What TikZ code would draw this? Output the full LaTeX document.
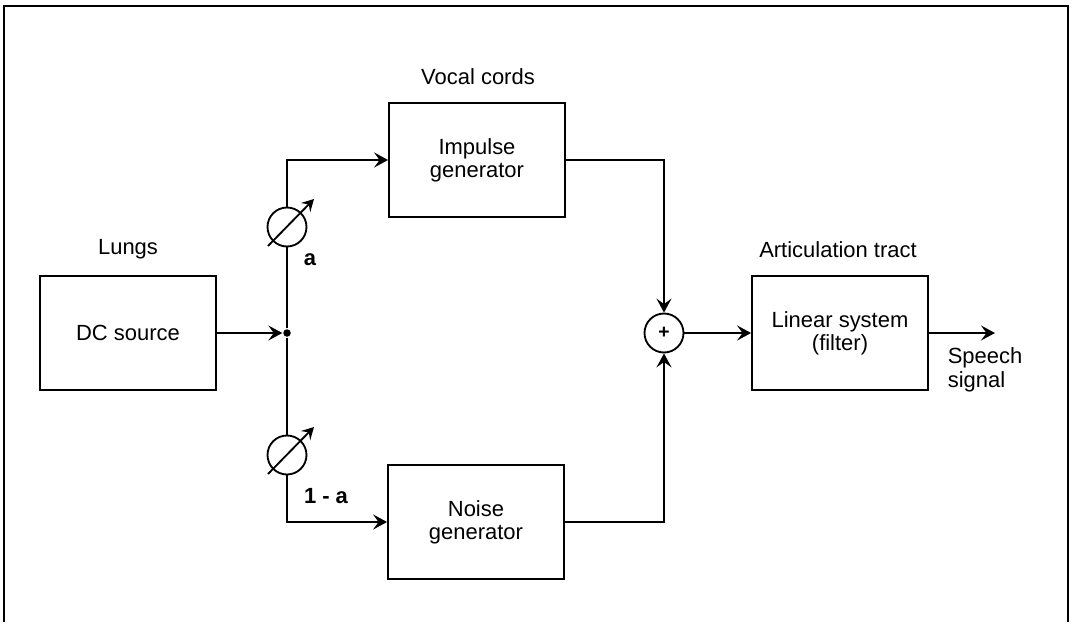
\documentclass[tikz,border=0pt]{standalone}
\usepackage{fontspec}
\setmainfont{Liberation Sans}
\usetikzlibrary{positioning,arrows.meta,calc}
\tikzset{
  blockbox/.style={draw,minimum width=3.52cm,minimum height=2.27cm,
                   align=center,inner sep=2pt},
  potcircle/.style={draw,circle,minimum size=0.78cm,inner sep=0pt},
  flow/.style={-{Stealth[length=2.8mm,width=3mm,inset=1.1mm]}},
  potarrow/.style={-{Stealth[length=2.4mm,width=2.6mm,inset=0.9mm]}},
  gain/.style={font=\bfseries\fontsize{12.5}{13}\selectfont},
}

\begin{document}
\begin{tikzpicture}[x=0.02cm,y=-0.02cm,line width=1.05pt,
                    font=\fontsize{12.5}{13}\selectfont]
            \useasboundingbox (0,0) rectangle (1071,622);
            % Frame (open at the bottom)
            \draw[line width=1.4pt] (4,622) -- (4,6) -- (1068,6) -- (1068,622);
            % Lungs
            \node[blockbox] (dc) at (128,333) {DC source};
            \node (lungs) at (128,249) {Lungs};
            \node[circle,fill,inner sep=0pt,minimum size=0.15cm] (jn) at (287,333) {};
            % Potentiometers a and 1 - a
            \node[potcircle] (pa) at (287,227) {};
            \node[potcircle] (pb) at (287,455) {};
            \foreach \p in {pa,pb}{
                \draw[potarrow] ([shift={(-19,19)}]\p.center)
                    -- ([shift={(27,-28)}]\p.center);
            }
            \node[gain] (la) at (310,260) {a};
            \node[gain] (lb) at (326,496) {1 - a};
            % Vocal cords
            \node[blockbox] (imp) at (477,160) {Impulse\\generator};
            \node (vocal) at (478,77) {Vocal cords};
            \node[blockbox] (noise) at (476,522) {Noise\\generator};
            % Sum and articulation tract
            \node[potcircle,font=\bfseries\fontsize{11}{11}\selectfont] (sum) at (664,333) {+};
            \node[blockbox] (lin) at (840,333) {Linear system\\(filter)};
            \node (tract) at (838,250) {Articulation tract};
            \coordinate (out) at (995,333);
            \node[anchor=west,align=left,font=\fontsize{12.5}{13.6}\selectfont]
                (speech) at (941,370) {Speech\\signal};
            % Connectors
            \draw[flow] (dc) -- (jn);
            \draw (jn) -- (pa);
            \draw (jn) -- (pb);
            \draw[flow] (pa.north) |- (imp.west);
            \draw[flow] (pb.south) |- (noise.west);
            \draw[flow] (imp.east) -| (sum.north);
            \draw[flow] (noise.east) -| (sum.south);
            \draw[flow] (sum) -- (lin);
            \draw[flow] (lin) -- (out);
        \end{tikzpicture}
\end{document}
